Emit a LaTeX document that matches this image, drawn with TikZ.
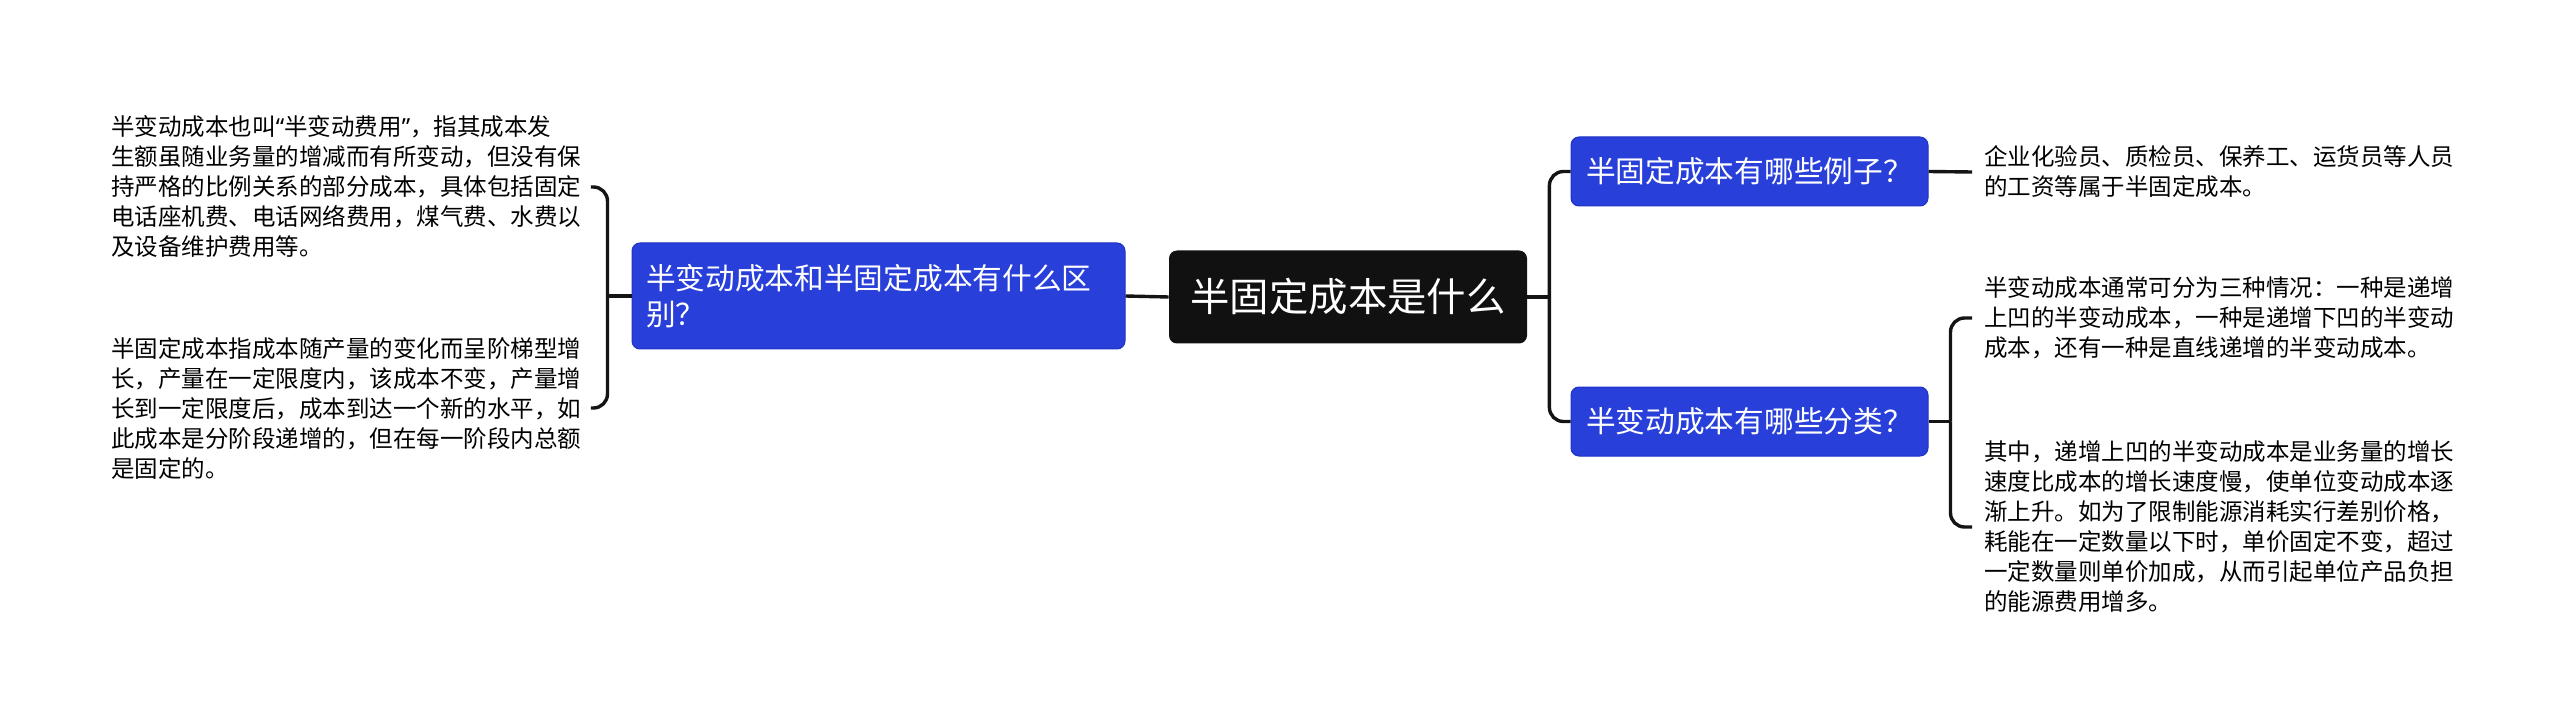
\documentclass[tikz,border=0pt]{standalone}
\usepackage{fontspec}
\setmainfont{Noto Sans CJK SC}
\newfontfamily\quotefont{Noto Sans}
\usetikzlibrary{calc}
\definecolor{topicblue}{RGB}{41,63,217}
\definecolor{topicedge}{RGB}{32,50,196}
\definecolor{rootblack}{RGB}{17,17,17}
\definecolor{linkblack}{RGB}{20,20,20}

\begin{document}
\begin{tikzpicture}[x=0.5pt, y=-0.5pt]
    \tikzstyle{root}=[fill=rootblack, text=white, rounded corners=4pt,
				minimum width=179pt, minimum height=46.5pt,
				font=\fontsize{19.7}{24}\selectfont]
    \tikzstyle{topic}=[fill=topicblue, draw=topicedge, line width=0.5pt,
				text=white, rounded corners=4pt,
				font=\fontsize{14.85}{18.35}\selectfont]
    \tikzstyle{leaf}=[align=left, text width=236pt, inner ysep=0pt,
				font=\fontsize{11.75}{15}\selectfont]
    \tikzstyle{link}=[draw=linkblack, line width=1.7pt, rounded corners=7pt]

    % the frame of the picture
    \useasboundingbox (0,0) rectangle (2560,727);

    % centre and the two sides
    \node[root] (root) at (1348,297) {半固定成本是什么};
    \node[topic, align=left, text width=232.5pt, inner xsep=7pt,
          minimum height=53pt] (diff) at (878.5,296) {半变动成本和半固定成本有什么区\\别？};
    \node[topic, minimum width=178.5pt, minimum height=34.5pt] (examples) at (1749.5,171.5) {半固定成本有哪些例子？};
    \node[topic, minimum width=178.5pt, minimum height=34.5pt] (kinds) at (1749.5,421.5) {半变动成本有哪些分类？};

    % texts on the left
    \node[leaf, inner xsep=3.5pt, anchor=west] (semivar) at (104,187) {半变动成本也叫{\quotefont“}半变动费用{\quotefont”}，指其成本发\\
        生额虽随业务量的增减而有所变动，但没有保\\
        持严格的比例关系的部分成本，具体包括固定\\
        电话座机费、电话网络费用，煤气费、水费以\\
        及设备维护费用等。};
    \node[leaf, inner xsep=3.5pt, anchor=west] (semifix) at (104,408) {半固定成本指成本随产量的变化而呈阶梯型增\\
        长，产量在一定限度内，该成本不变，产量增\\
        长到一定限度后，成本到达一个新的水平，如\\
        此成本是分阶段递增的，但在每一阶段内总额\\
        是固定的。};

    % texts on the right
    \node[leaf, inner xsep=6pt, anchor=west] (staff) at (1972,172) {企业化验员、质检员、保养工、运货员等人员\\
        的工资等属于半固定成本。};
    \node[leaf, inner xsep=6pt, anchor=west] (threecases) at (1972,318) {半变动成本通常可分为三种情况：一种是递增\\
        上凹的半变动成本，一种是递增下凹的半变动\\
        成本，还有一种是直线递增的半变动成本。};
    \node[leaf, inner xsep=6pt, anchor=west] (concave) at (1972,527) {其中，递增上凹的半变动成本是业务量的增长\\
        速度比成本的增长速度慢，使单位变动成本逐\\
        渐上升。如为了限制能源消耗实行差别价格，\\
        耗能在一定数量以下时，单价固定不变，超过\\
        一定数量则单价加成，从而引起单位产品负担\\
        的能源费用增多。};

    % branch points
    \coordinate (leftfork) at ($(diff.west)+(-24,0)$);
    \coordinate (rightfork) at ($(root.east)+(22,0)$);
    \coordinate (kindsfork) at ($(kinds.east)+(22,0)$);

    % connectors
    \draw[link] (diff.east) -- (root.west);
    \draw[link] (diff.west) -- (leftfork);
    \draw[link] (leftfork) |- (semivar.east);
    \draw[link] (leftfork) |- (semifix.east);
    \draw[link] (root.east) -- (rightfork);
    \draw[link] (rightfork) |- (examples.west);
    \draw[link] (rightfork) |- (kinds.west);
    \draw[link] (examples.east) -- (staff.west);
    \draw[link] (kinds.east) -- (kindsfork);
    \draw[link] (kindsfork) |- (threecases.west);
    \draw[link] (kindsfork) |- (concave.west);
\end{tikzpicture}
\end{document}
